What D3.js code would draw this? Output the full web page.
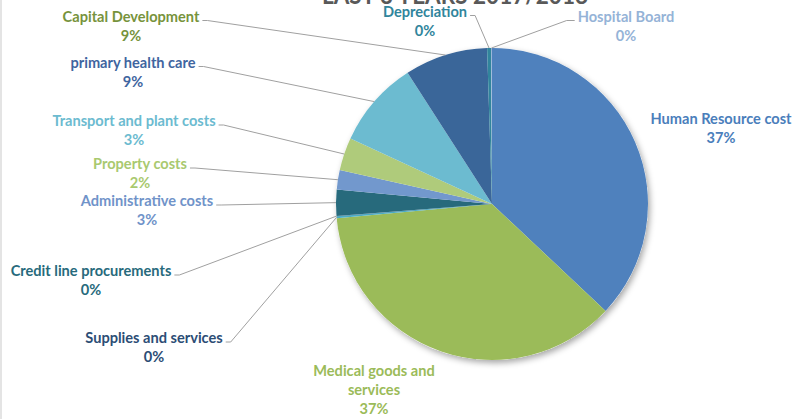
<!DOCTYPE html>
<html>
<head>
<meta charset="utf-8">
<script src="https://cdn.jsdelivr.net/npm/d3@7"></script>
<style>
  html, body { margin: 0; padding: 0; background: #fff; }
  #chart { width: 795px; height: 419px; overflow: hidden; }
  text { font-family: Lato, "Open Sans", sans-serif; font-weight: 700; }
</style>
</head>
<body>
<div id="chart"></div>
<script>
const categories = [
  'Human Resource cost', 'Medical goods and services', 'Supplies and services',
  'Credit line procurements', 'Administrative costs', 'Property costs',
  'Transport and plant costs', 'primary health care', 'Capital Development',
  'Depreciation', 'Hospital Board'
];
const values = [37.0, 36.5, 0.2, 0.05, 2.7, 2.0, 3.4, 9.0, 8.6, 0.4, 0.1];
const sliceColors = ['#4F81BD', '#9BBB59', '#4BACC6', '#2C4D75', '#276A7C', '#7298CD',
  '#AFCB7B', '#6CBBD0', '#3A6699', '#31859C', '#95B3D7'];
const labelColors = ['#4A7EBB', '#9BBB59', '#2C4D75', '#276A7C', '#7093C9', '#A9C96F',
  '#6CBBD0', '#3F65A0', '#77933C', '#31859C', '#95B3D7'];
const titleText = 'LAST 3 YEARS 2017/2018';

const width = 795, height = 419;
const cx = 492, cy = 204, radius = 156;

// label boxes placed by hand like the original (centre x, first line centre y)
const labelLayout = [
  { x: 721, y: 119, lines: ['Human Resource cost'], leader: 'none' },
  { x: 374, y: 371, lines: ['Medical goods and', 'services'], leader: 'none' },
  { x: 154, y: 338, lines: ['Supplies and services'], leader: 'left' },
  { x: 91, y: 271, lines: ['Credit line procurements'], leader: 'left' },
  { x: 147, y: 201, lines: ['Administrative costs'], leader: 'left' },
  { x: 140, y: 164, lines: ['Property costs'], leader: 'left' },
  { x: 134, y: 121, lines: ['Transport and plant costs'], leader: 'left' },
  { x: 133, y: 62.5, lines: ['primary health care'], leader: 'left' },
  { x: 131, y: 16.5, lines: ['Capital Development'], leader: 'left' },
  { x: 425, y: 11.5, lines: ['Depreciation'], leader: 'left' },
  { x: 626, y: 16.5, lines: ['Hospital Board'], leader: 'right' }
];

const svg = d3.select('#chart').append('svg')
  .attr('width', width)
  .attr('height', height);

svg.append('rect')
  .attr('x', 0).attr('y', 0)
  .attr('width', 2).attr('height', height)
  .attr('fill', '#e4e4e4');

const defs = svg.append('defs');
const shadow = defs.append('filter')
  .attr('id', 'shadow')
  .attr('x', '-20%').attr('y', '-20%')
  .attr('width', '140%').attr('height', '140%');
shadow.append('feDropShadow')
  .attr('dx', 2).attr('dy', 3)
  .attr('stdDeviation', 3)
  .attr('flood-color', '#000')
  .attr('flood-opacity', 0.35);

const total = d3.sum(values);
const data = categories.map((c, i) => ({ name: c, value: values[i], i }));

const pie = d3.pie().sort(null).value(d => d.value);
const arcs = pie(data);
const arc = d3.arc().innerRadius(0).outerRadius(radius);

const pieG = svg.append('g')
  .attr('transform', `translate(${cx},${cy})`);

pieG.append('circle')
  .attr('r', radius)
  .attr('fill', '#fff')
  .attr('filter', 'url(#shadow)');

pieG.selectAll('path')
  .data(arcs)
  .enter()
  .append('path')
  .attr('d', arc)
  .attr('fill', d => sliceColors[d.data.i]);

// title, mostly cut off at the top
svg.append('text')
  .attr('x', 322)
  .attr('y', 4)
  .attr('fill', '#595959')
  .attr('font-size', '25px')
  .attr('textLength', 266)
  .attr('lengthAdjust', 'spacingAndGlyphs')
  .text(titleText);

const lineGap = 18.8;
const fontSize = 14.6;

const labels = svg.append('g');
const leaders = svg.append('g');

arcs.forEach(a => {
  const i = a.data.i;
  const lay = labelLayout[i];
  const pct = Math.round(a.data.value / total * 100) + '%';
  const lines = lay.lines.concat([pct]);

  const t = labels.append('text')
    .attr('text-anchor', 'middle')
    .attr('fill', labelColors[i])
    .attr('font-size', fontSize + 'px');

  lines.forEach((ln, k) => {
    t.append('tspan')
      .attr('x', lay.x)
      .attr('y', lay.y + k * lineGap)
      .attr('dy', '0.36em')
      .text(ln);
  });

  if (lay.leader === 'none') return;

  const w = t.select('tspan').node().getComputedTextLength();
  const mid = (a.startAngle + a.endAngle) / 2;
  const px = cx + radius * Math.sin(mid);
  const py = cy - radius * Math.cos(mid);
  const ly = lay.y + 4;

  let pts;
  if (lay.leader === 'left') {
    const x0 = lay.x + w / 2 + 3;
    pts = [[x0, ly], [x0 + 5, ly], [px, py]];
  } else {
    const x0 = lay.x - w / 2 - 3;
    pts = [[x0, ly], [x0 - 8, ly], [px, py]];
  }

  leaders.append('path')
    .attr('d', d3.line()(pts))
    .attr('fill', 'none')
    .attr('stroke', '#a0a0a0')
    .attr('stroke-width', 1);
});
</script>
</body>
</html>
